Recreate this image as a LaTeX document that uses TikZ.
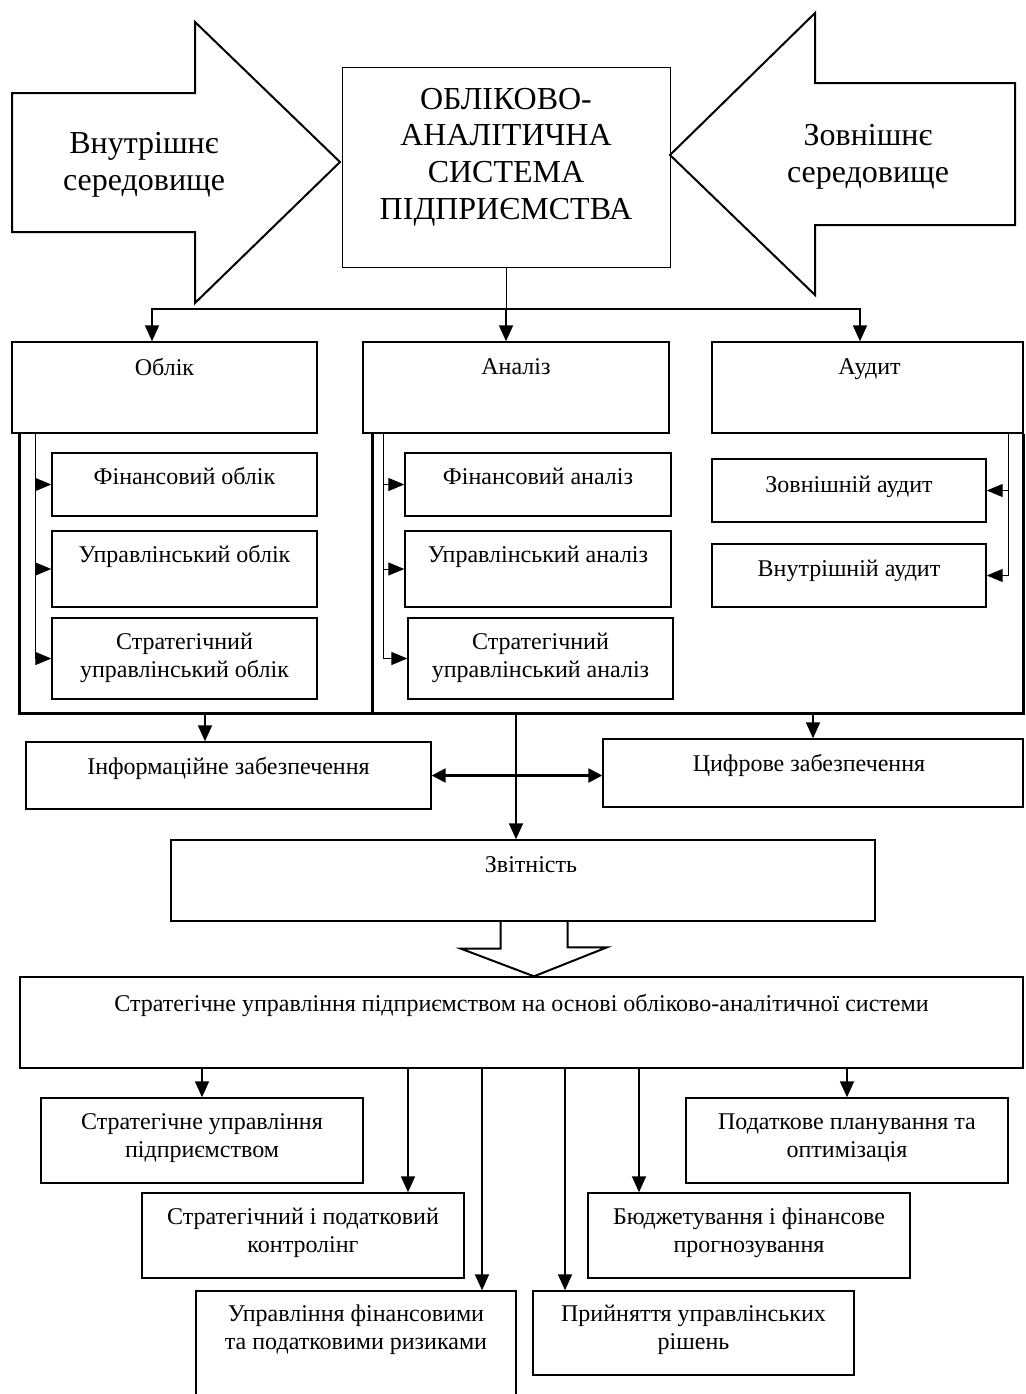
\documentclass[tikz,border=0pt]{standalone}
\usepackage{fontspec}
\setmainfont{Liberation Serif}
\usetikzlibrary{arrows.meta,fit,positioning}

\tikzset{
  box/.style={draw, line width=0.7pt, inner sep=0pt},
  txt/.style={font=\fontsize{12}{14.2}\selectfont, align=center, inner sep=0pt, anchor=base},
  bigtxt/.style={font=\fontsize{16}{18.3}\selectfont, align=center, inner sep=0pt},
  arr/.style={line width=0.9pt, -{Triangle[length=8pt,width=7pt]}},
  subarr/.style={line width=0.5pt, -{Triangle[length=8pt,width=6.5pt]}},
  dblarr/.style={line width=1.2pt, {Triangle[length=7pt,width=7pt]}-{Triangle[length=7pt,width=7pt]}},
  frame/.style={line width=1.5pt},
  bigarrow/.style={draw, line width=1pt, line join=miter},
}

\begin{document}
\begin{tikzpicture}[x=0.5pt, y=-0.5pt]
\useasboundingbox (0,0) rectangle (1025,1394);

% environment arrows and the system box
\draw[bigarrow] (12,93) -- (195,93) -- (195,22) -- (340,162) -- (195,303) -- (195,232) -- (12,232) -- cycle;
\draw[bigarrow] (1015,83) -- (815,83) -- (815,13) -- (670,155) -- (815,295) -- (815,225) -- (1015,225) -- cycle;
\node[bigtxt] (inner) at (144,165) {Внутрішнє\\середовище};
\node[bigtxt] (outer) at (868,157) {Зовнішнє\\середовище};
\node[box, line width=0.5pt, fit={(342,67) (670,267)}] (sys) {};
\node[bigtxt] (syst) at (506,157) {ОБЛІКОВО-\\АНАЛІТИЧНА\\СИСТЕМА\\ПІДПРИЄМСТВА};

% accounting, analysis, audit
\node[box, fit={(12,342) (317,433)}] (oblik) {};
\node[box, fit={(363,342) (669,433)}] (analiz) {};
\node[box, fit={(712,342) (1023,433)}] (audit) {};
\node[txt] (oblikt) at ([yshift=-17pt]oblik.north) {Облік};
\node[txt] (analizt) at ([yshift=-16.5pt]analiz.north) {Аналіз};
\node[txt] (auditt) at ([xshift=1pt,yshift=-16.5pt]audit.north) {Аудит};

\coordinate (split) at (sys.south |- 0,309);
\draw[line width=0.5pt] (sys.south) -- (split);
\draw[arr] (split) -| ([xshift=-6.25pt]oblik.north);
\draw[arr] (split) -- (split |- analiz.north);
\draw[arr] (split) -| ([xshift=-3.75pt]audit.north);

\node[box, fit={(52,453) (317,516)}] (ofin) {};
\node[box, fit={(52,531) (317,607)}] (oupr) {};
\node[box, fit={(52,618) (317,699)}] (ostr) {};
\node[txt] (ofint) at ([yshift=-16pt]ofin.north) {Фінансовий облік};
\node[txt] (ouprt) at ([yshift=-16pt]oupr.north) {Управлінський облік};
\node[txt] (ostrt) at ([yshift=-30.2pt]ostr.north) {Стратегічний\\управлінський облік};

\node[box, fit={(405,453) (671,516)}] (afin) {};
\node[box, fit={(405,531) (671,607)}] (aupr) {};
\node[box, fit={(408,618) (673,699)}] (astr) {};
\node[txt] (afint) at ([yshift=-16pt]afin.north) {Фінансовий аналіз};
\node[txt] (auprt) at ([yshift=-16pt]aupr.north) {Управлінський аналіз};
\node[txt] (astrt) at ([yshift=-30.2pt]astr.north) {Стратегічний\\управлінський аналіз};

\node[box, fit={(712,459) (986,522)}] (azov) {};
\node[box, fit={(712,544) (986,607)}] (avnu) {};
\node[txt] (azovt) at ([yshift=-17pt]azov.north) {Зовнішній аудит};
\node[txt] (avnut) at ([yshift=-16.5pt]avnu.north) {Внутрішній аудит};

\coordinate (otop) at ([xshift=12pt]oblik.south west);
\draw[subarr] (otop) |- (ofin.west);
\draw[subarr] (otop) |- (oupr.west);
\draw[subarr] (otop) |- (ostr.west);
\coordinate (atop) at ([xshift=10.5pt]analiz.south west);
\draw[subarr] (atop) |- (afin.west);
\draw[subarr] (atop) |- (aupr.west);
\draw[subarr] (atop) |- (astr.west);
\coordinate (dtop) at ([xshift=-7.5pt]audit.south east);
\draw[subarr] (dtop) |- (azov.east);
\draw[subarr] (dtop) |- (avnu.east);

% collecting frame
\coordinate (fb) at (516,713);
\coordinate (mtop) at ([xshift=5pt]analiz.south west);
\draw[frame] ([xshift=4pt]oblik.south west) |- (fb) -| (audit.south east);
\draw[frame] (mtop) -- (mtop |- fb);

% support and reporting
\node[box, fit={(26,742) (431,809)}] (info) {};
\node[box, fit={(603,739) (1023,807)}] (digi) {};
\node[box, fit={(171,840) (875,921)}] (zvit) {};
\node[txt] (infot) at ([yshift=-16.5pt]info.north) {Інформаційне забезпечення};
\node[txt] (digit) at ([xshift=-2pt,yshift=-16.5pt]digi.north) {Цифрове забезпечення};
\node[txt] (zvitt) at ([xshift=4pt,yshift=-16.5pt]zvit.north) {Звітність};

\coordinate (c1) at ([xshift=-11.75pt]info.north);
\draw[arr] (c1 |- fb) -- (c1);
\draw[arr] (digi.north |- fb) -- (digi.north);
\draw[arr] (fb) -- (fb |- zvit.north);
\draw[dblarr] (info.east) -- (info.east -| digi.west);

% strategic management
\node[box, fit={(20,977) (1023,1068)}] (strat) {};
\node[txt] (stratt) at ([yshift=-17.5pt]strat.north) {Стратегічне управління підприємством на основі обліково-аналітичної системи};

\coordinate (ha) at ([xshift=5.5pt]zvit.south);
\draw[bigarrow] (ha) ++(-33.5,0) -- ++(0,27) -- ++(-39.5,0) -- (ha |- strat.north) -- ++(73,-29) -- ++(-39.5,0) -- ++(0,-27);

\node[box, fit={(41,1098) (363,1183)}] (sup) {};
\node[box, fit={(686,1098) (1008,1183)}] (potk) {};
\node[box, fit={(142,1193) (464,1278)}] (kontr) {};
\node[box, fit={(588,1193) (910,1278)}] (budg) {};
\node[box, fit={(196,1291) (516,1430)}] (risk) {};
\node[box, fit={(533,1291) (854,1375)}] (prin) {};
\node[txt] (supt) at ([yshift=-30.2pt]sup.north) {Стратегічне управління\\підприємством};
\node[txt] (potkt) at ([yshift=-30.2pt]potk.north) {Податкове планування та\\оптимізація};
\node[txt] (kontrt) at ([yshift=-30.2pt]kontr.north) {Стратегічний і податковий\\контролінг};
\node[txt] (budgt) at ([yshift=-30.2pt]budg.north) {Бюджетування і фінансове\\прогнозування};
\node[txt] (riskt) at ([yshift=-29.7pt]risk.north) {Управління фінансовими\\та податковими ризиками};
\node[txt] (print) at ([yshift=-29.7pt]prin.north) {Прийняття управлінських\\рішень};

\coordinate (c2) at ([xshift=52.5pt]kontr.north);
\coordinate (c3) at ([xshift=63pt]risk.north);
\coordinate (c4) at ([xshift=-64.25pt]prin.north);
\coordinate (c5) at ([xshift=-55pt]budg.north);
\draw[arr] (sup.north |- strat.south) -- (sup.north);
\draw[arr] (c2 |- strat.south) -- (c2);
\draw[arr] (c3 |- strat.south) -- (c3);
\draw[arr] (c4 |- strat.south) -- (c4);
\draw[arr] (c5 |- strat.south) -- (c5);
\draw[arr] (potk.north |- strat.south) -- (potk.north);
\end{tikzpicture}
\end{document}
